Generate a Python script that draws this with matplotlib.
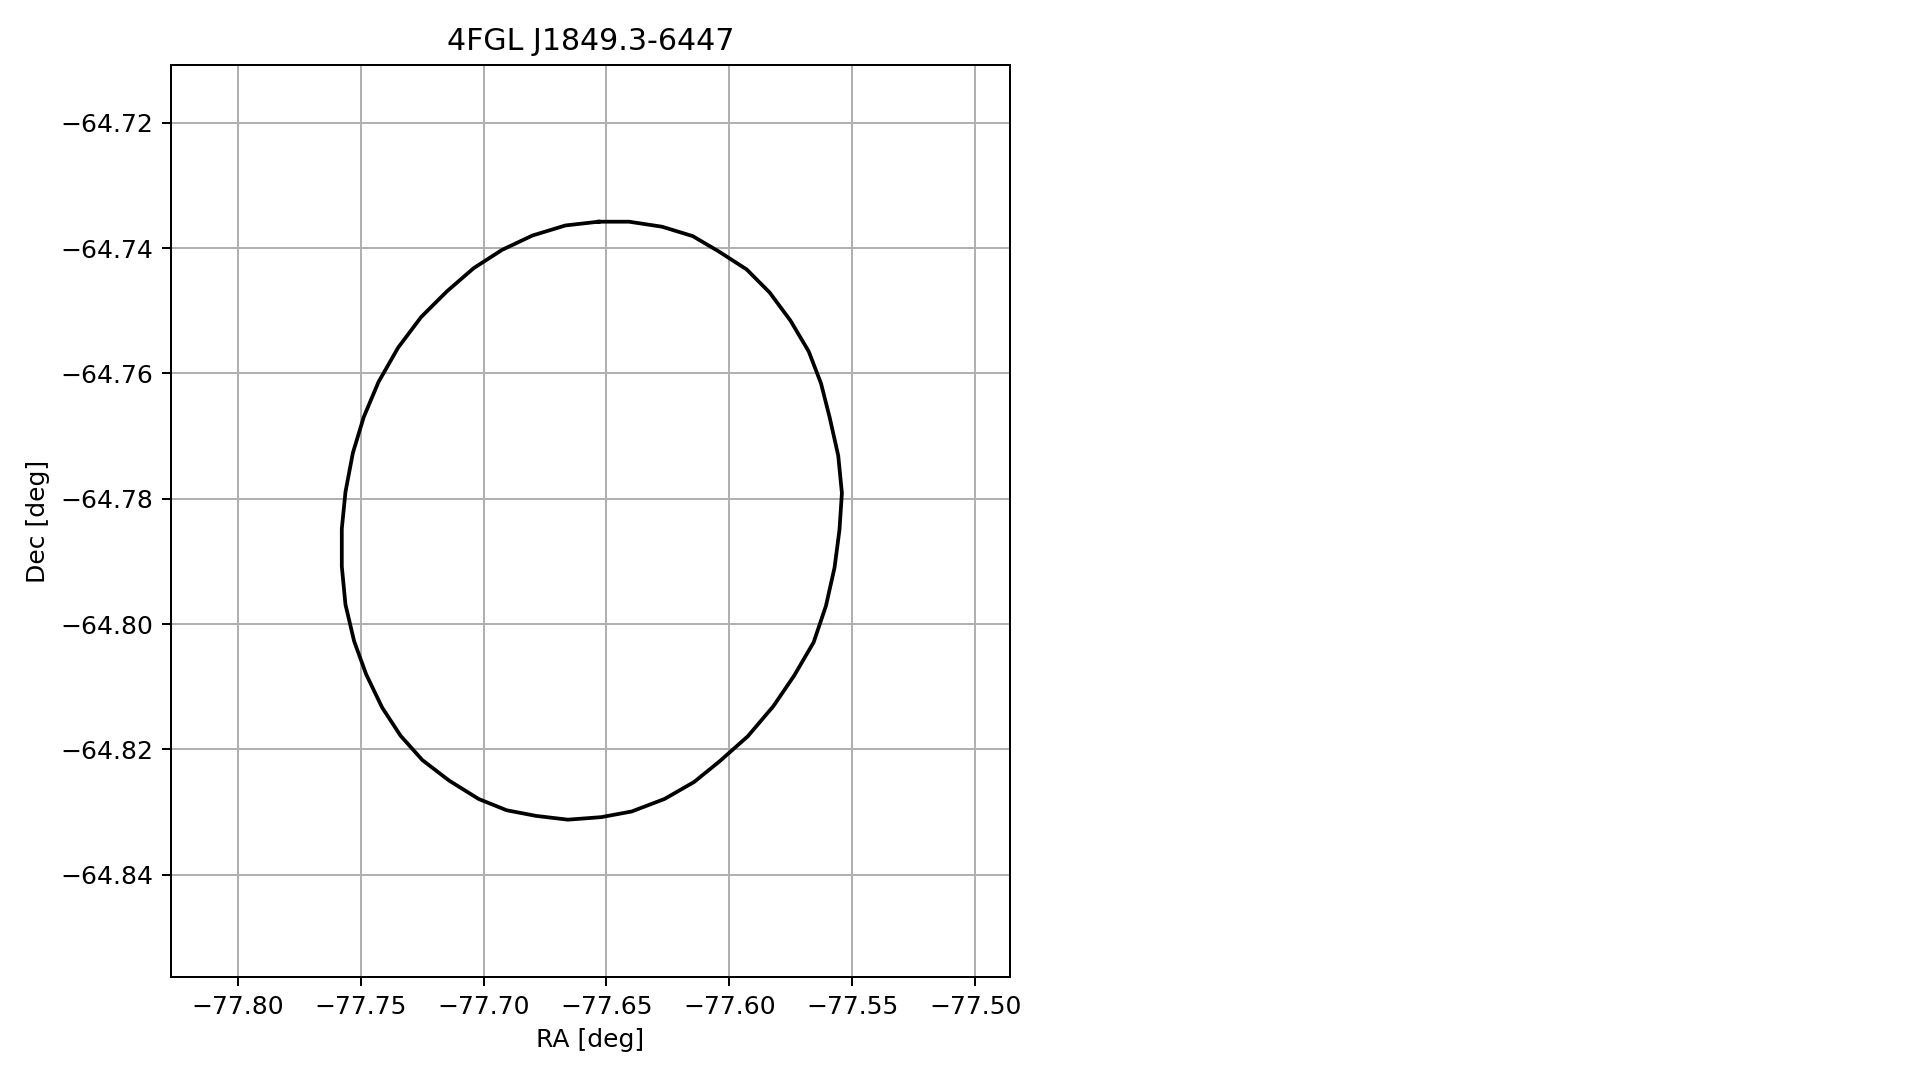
import matplotlib
matplotlib.use("Agg")
import matplotlib.pyplot as plt
import numpy as np

source_name = "4FGL J1849.3-6447"

# error ellipse contour vertices (RA, Dec in deg)
ra = [-77.6532, -77.6408, -77.6274, -77.6149, -77.6045, -77.5930, -77.5836,
      -77.5751, -77.5677, -77.5627, -77.5592, -77.5557, -77.5542, -77.5552,
      -77.5572, -77.5607, -77.5657, -77.5736, -77.5821, -77.5925, -77.6040,
      -77.6144, -77.6264, -77.6398, -77.6522, -77.6657, -77.6786, -77.6906,
      -77.7020, -77.7139, -77.7249, -77.7338, -77.7413, -77.7478, -77.7527,
      -77.7562, -77.7577, -77.7577, -77.7562, -77.7532, -77.7488, -77.7428,
      -77.7348, -77.7254, -77.7149, -77.7040, -77.6925, -77.6801, -77.6667,
      -77.6532]
dec = [-64.7358, -64.7358, -64.7366, -64.7381, -64.7405, -64.7434, -64.7471,
       -64.7516, -64.7565, -64.7616, -64.7670, -64.7731, -64.7791, -64.7850,
       -64.7910, -64.7971, -64.8029, -64.8082, -64.8131, -64.8179, -64.8219,
       -64.8252, -64.8279, -64.8299, -64.8308, -64.8312, -64.8306, -64.8297,
       -64.8279, -64.8250, -64.8217, -64.8178, -64.8133, -64.8080, -64.8027,
       -64.7969, -64.7908, -64.7848, -64.7789, -64.7727, -64.7670, -64.7614,
       -64.7559, -64.7510, -64.7469, -64.7432, -64.7403, -64.7380, -64.7364,
       -64.7358]

DPI = 180
fig = plt.figure(figsize=(1919 / DPI, 1080 / DPI), dpi=DPI)
ax = fig.add_axes([171 / 1919, 1 - 977 / 1080, 839 / 1919, 912 / 1080])

ax.plot(np.array(ra), np.array(dec), color="black", linewidth=1.5)
ax.set_xlim(-77.8272, -77.4858)
ax.set_ylim(-64.8563, -64.7108)
ax.set_xticks(np.arange(-77.80, -77.49, 0.05))
ax.set_yticks(np.arange(-64.84, -64.71, 0.02))
ax.grid(True)
ax.set_axisbelow(True)
ax.set_title(source_name)
ax.set_xlabel("RA [deg]")
ax.set_ylabel("Dec [deg]")

fig.savefig("out.png", dpi=DPI)
plt.close(fig)
